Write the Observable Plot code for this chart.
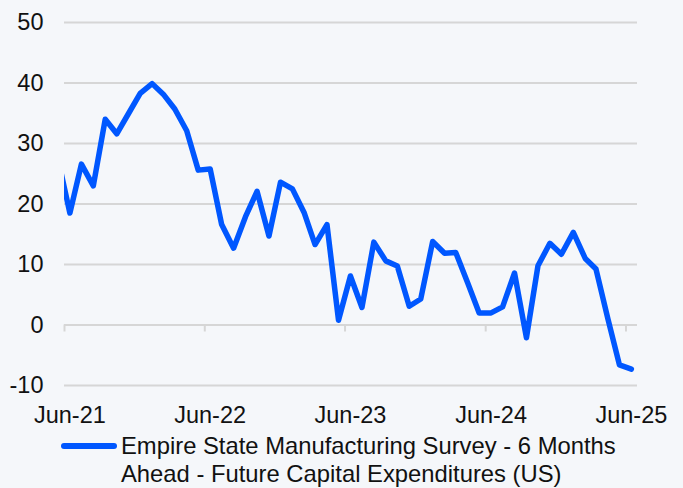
<!DOCTYPE html>
<html>
<head>
<meta charset="utf-8">
<script src="https://cdn.jsdelivr.net/npm/d3@7"></script>
<script src="https://cdn.jsdelivr.net/npm/@observablehq/plot@0.6"></script>
<style>
  html, body { margin: 0; padding: 0; background: #F5F7FA; }
  body { width: 683px; height: 488px; overflow: hidden; font-family: "Liberation Sans", Arial, sans-serif; }
  #legend { display: flex; align-items: flex-start; margin-top: 2px; padding-left: 61px; font-size: 23.8px; line-height: 28px; color: #111; }
  #legend .sw { width: 56px; height: 6px; border-radius: 3px; background: #0057FF; margin-top: 11px; margin-right: 4px; flex: none; }
</style>
</head>
<body>
<div id="chart"></div>
<div id="legend"><div class="sw"></div><div id="legend-text"></div></div>
<script>
// First month of the series (partly clipped at the left edge), then monthly values
const startMonth = "2021-05";
const values = [
  27.5,                                                        // May-21
  18.5, 26.6, 23.0, 34.0, 31.6, 35.0, 38.3,                    // Jun-21 .. Dec-21
  39.9, 38.0, 35.7, 32.1, 25.6, 25.8, 16.6, 12.7, 17.9, 22.1, 14.7, 23.6, // 2022
  22.5, 18.5, 13.3, 16.6, 0.8, 8.1, 2.9, 13.7, 10.6, 9.75, 3.1, 4.3,      // 2023
  13.8, 11.85, 12.0, 7.0, 2.0, 2.0, 3.0, 8.6, -2.1, 9.8, 13.5, 11.7,       // 2024
  15.3, 11.0, 9.25, 1.0, -6.6, -7.3                            // Jan-25 .. Jun-25
];
const xTickLabels = ["Jun-21", "Jun-22", "Jun-23", "Jun-24", "Jun-25"];
const yTicks = [-10, 0, 10, 20, 30, 40, 50];
const seriesName = ["Empire State Manufacturing Survey - 6 Months", "Ahead - Future Capital Expenditures (US)"];

const parseMonth = d3.utcParse("%Y-%m");
const months = d3.utcMonth.range(parseMonth(startMonth), d3.utcMonth.offset(parseMonth(startMonth), values.length));
const data = values.map((v, i) => ({date: d3.utcDay.offset(months[i], 14), value: v}));

const parseLabel = d3.utcParse("%b-%y");
const tickStarts = xTickLabels.map(parseLabel);                 // June 1 of each year
const labelDates = tickStarts.map(d => d3.utcDay.offset(d, 14)); // mid-June observations
const xDomain = [tickStarts[0], d3.utcMonth.offset(tickStarts[tickStarts.length - 1], 1)];

const chart = Plot.plot({
  width: 683,
  height: 430,
  marginLeft: 64,
  marginRight: 46,
  marginTop: 22,
  marginBottom: 45,
  style: {background: "transparent", fontFamily: "Liberation Sans, Arial, sans-serif", fontSize: "23.5px", color: "#111"},
  x: {type: "utc", domain: xDomain, label: null},
  y: {domain: [-10, 50], label: null},
  marks: [
    Plot.ruleY(yTicks, {stroke: "#D6D6D6", strokeWidth: 2}),
    Plot.ruleX(tickStarts, {x: d => d, y1: 0, y2: 0, insetBottom: -7, stroke: "#D6D6D6", strokeWidth: 2}),
    Plot.axisY({ticks: yTicks, tickSize: 0, tickPadding: 21, tickFormat: d => String(d), fill: "#111", label: null}),
    Plot.axisX({ticks: labelDates, tickSize: 0, tickPadding: 21, tickFormat: (d, i) => xTickLabels[i], fill: "#111", label: null}),
    Plot.line(data, {x: "date", y: "value", stroke: "#0057FF", strokeWidth: 5.5, clip: true})
  ]
});
document.getElementById("chart").appendChild(chart);
document.getElementById("legend-text").innerHTML = seriesName.join("<br>");
</script>
</body>
</html>
